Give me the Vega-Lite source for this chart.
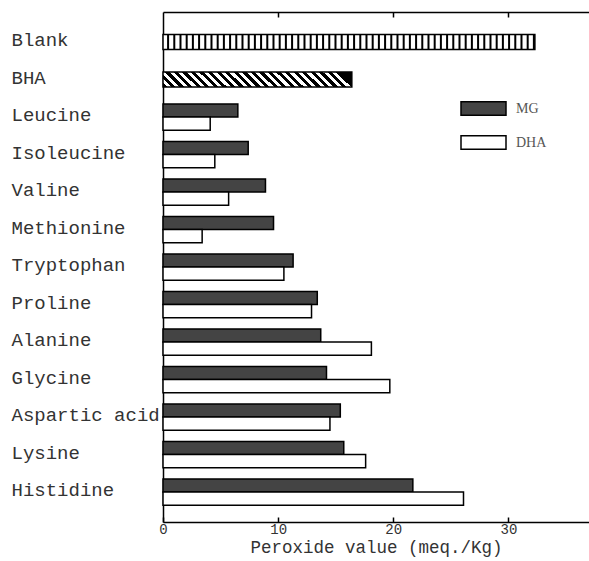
{
  "$schema": "https://vega.github.io/schema/vega-lite/v6.json",
  "width": 426,
  "height": 510,
  "autosize": {"type": "none"},
  "padding": {"left": 163, "top": 12, "right": 0, "bottom": 39},
  "background": "white",
  "config": {"view": {"stroke": null}, "font": "Liberation Mono"},
  "data": {
    "values": [
      {"item": "Blank", "group": "Blank", "value": 32.3},
      {"item": "BHA", "group": "BHA", "value": 16.4},
      {"item": "Leucine", "group": "MG", "value": 6.5},
      {"item": "Leucine", "group": "DHA", "value": 4.1},
      {"item": "Isoleucine", "group": "MG", "value": 7.4},
      {"item": "Isoleucine", "group": "DHA", "value": 4.5},
      {"item": "Valine", "group": "MG", "value": 8.9},
      {"item": "Valine", "group": "DHA", "value": 5.7},
      {"item": "Methionine", "group": "MG", "value": 9.6},
      {"item": "Methionine", "group": "DHA", "value": 3.4},
      {"item": "Tryptophan", "group": "MG", "value": 11.3},
      {"item": "Tryptophan", "group": "DHA", "value": 10.5},
      {"item": "Proline", "group": "MG", "value": 13.4},
      {"item": "Proline", "group": "DHA", "value": 12.9},
      {"item": "Alanine", "group": "MG", "value": 13.7},
      {"item": "Alanine", "group": "DHA", "value": 18.1},
      {"item": "Glycine", "group": "MG", "value": 14.2},
      {"item": "Glycine", "group": "DHA", "value": 19.7},
      {"item": "Aspartic acid", "group": "MG", "value": 15.4},
      {"item": "Aspartic acid", "group": "DHA", "value": 14.5},
      {"item": "Lysine", "group": "MG", "value": 15.7},
      {"item": "Lysine", "group": "DHA", "value": 17.6},
      {"item": "Histidine", "group": "MG", "value": 21.7},
      {"item": "Histidine", "group": "DHA", "value": 26.1}
    ]
  },
  "encoding": {
    "y": {
      "field": "item",
      "type": "nominal",
      "sort": ["Blank", "BHA", "Leucine", "Isoleucine", "Valine", "Methionine", "Tryptophan", "Proline", "Alanine", "Glycine", "Aspartic acid", "Lysine", "Histidine"],
      "scale": {"paddingInner": 0.3, "paddingOuter": 0.45},
      "axis": {
        "title": null,
        "domain": true,
        "domainColor": "black",
        "domainWidth": 1.5,
        "ticks": false,
        "labelAlign": "left",
        "labelBaseline": "middle",
        "labelPadding": 152,
        "labelOffset": -2,
        "labelFont": "Liberation Mono",
        "labelFontSize": 19,
        "labelColor": "#333",
        "labelLimit": 200
      }
    }
  },
  "layer": [
    {
      "transform": [{"filter": "datum.group === 'Blank'"}],
      "mark": {"type": "bar", "height": {"band": 0.58}, "stroke": "black", "strokeWidth": 1.5, "fill": "white"},
      "encoding": {
        "x": {
          "field": "value",
          "type": "quantitative",
          "scale": {"domain": [0, 37], "nice": false},
          "axis": {
            "orient": "bottom",
            "values": [0, 10, 20, 30],
            "grid": false,
            "domain": true,
            "domainColor": "black",
            "domainWidth": 1.5,
            "ticks": true,
            "tickColor": "black",
            "tickWidth": 1.5,
            "tickSize": -5,
            "labelFlush": false,
            "labelPadding": 5,
            "labelFont": "Liberation Mono",
            "labelFontSize": 14,
            "labelColor": "#333",
            "title": "Peroxide value (meq./Kg)",
            "titleFont": "Liberation Mono",
            "titleFontSize": 17.5,
            "titleFontWeight": "normal",
            "titleColor": "#333",
            "titlePadding": 2
          }
        }
      }
    },
    {
      "transform": [{"filter": "datum.group === 'Blank'"}],
      "mark": {"type": "rule", "stroke": "black", "strokeWidth": 14, "strokeDash": [2, 4.2], "strokeCap": "butt"},
      "encoding": {
        "x": {"field": "value", "type": "quantitative", "axis": null},
        "x2": {"datum": 0}
      }
    },
    {
      "transform": [{"filter": "datum.group === 'BHA'"}],
      "mark": {
        "type": "bar",
        "height": {"band": 0.58},
        "stroke": "black",
        "strokeWidth": 1.5,
        "fill": {
          "gradient": "linear",
          "x1": 0, "y1": 1, "x2": 1, "y2": 0.918,
          "stops": [
            {"offset": 0, "color": "black"}, {"offset": 0.0225, "color": "black"}, {"offset": 0.0225, "color": "white"}, {"offset": 0.045, "color": "white"},
            {"offset": 0.045, "color": "black"}, {"offset": 0.0675, "color": "black"}, {"offset": 0.0675, "color": "white"}, {"offset": 0.09, "color": "white"},
            {"offset": 0.09, "color": "black"}, {"offset": 0.1125, "color": "black"}, {"offset": 0.1125, "color": "white"}, {"offset": 0.135, "color": "white"},
            {"offset": 0.135, "color": "black"}, {"offset": 0.1575, "color": "black"}, {"offset": 0.1575, "color": "white"}, {"offset": 0.18, "color": "white"},
            {"offset": 0.18, "color": "black"}, {"offset": 0.2025, "color": "black"}, {"offset": 0.2025, "color": "white"}, {"offset": 0.225, "color": "white"},
            {"offset": 0.225, "color": "black"}, {"offset": 0.2475, "color": "black"}, {"offset": 0.2475, "color": "white"}, {"offset": 0.27, "color": "white"},
            {"offset": 0.27, "color": "black"}, {"offset": 0.2925, "color": "black"}, {"offset": 0.2925, "color": "white"}, {"offset": 0.315, "color": "white"},
            {"offset": 0.315, "color": "black"}, {"offset": 0.3375, "color": "black"}, {"offset": 0.3375, "color": "white"}, {"offset": 0.36, "color": "white"},
            {"offset": 0.36, "color": "black"}, {"offset": 0.3825, "color": "black"}, {"offset": 0.3825, "color": "white"}, {"offset": 0.405, "color": "white"},
            {"offset": 0.405, "color": "black"}, {"offset": 0.4275, "color": "black"}, {"offset": 0.4275, "color": "white"}, {"offset": 0.45, "color": "white"},
            {"offset": 0.45, "color": "black"}, {"offset": 0.4725, "color": "black"}, {"offset": 0.4725, "color": "white"}, {"offset": 0.495, "color": "white"},
            {"offset": 0.495, "color": "black"}, {"offset": 0.5175, "color": "black"}, {"offset": 0.5175, "color": "white"}, {"offset": 0.54, "color": "white"},
            {"offset": 0.54, "color": "black"}, {"offset": 0.5625, "color": "black"}, {"offset": 0.5625, "color": "white"}, {"offset": 0.585, "color": "white"},
            {"offset": 0.585, "color": "black"}, {"offset": 0.6075, "color": "black"}, {"offset": 0.6075, "color": "white"}, {"offset": 0.63, "color": "white"},
            {"offset": 0.63, "color": "black"}, {"offset": 0.6525, "color": "black"}, {"offset": 0.6525, "color": "white"}, {"offset": 0.675, "color": "white"},
            {"offset": 0.675, "color": "black"}, {"offset": 0.6975, "color": "black"}, {"offset": 0.6975, "color": "white"}, {"offset": 0.72, "color": "white"},
            {"offset": 0.72, "color": "black"}, {"offset": 0.7425, "color": "black"}, {"offset": 0.7425, "color": "white"}, {"offset": 0.765, "color": "white"},
            {"offset": 0.765, "color": "black"}, {"offset": 0.7875, "color": "black"}, {"offset": 0.7875, "color": "white"}, {"offset": 0.81, "color": "white"},
            {"offset": 0.81, "color": "black"}, {"offset": 0.8325, "color": "black"}, {"offset": 0.8325, "color": "white"}, {"offset": 0.855, "color": "white"},
            {"offset": 0.855, "color": "black"}, {"offset": 0.8775, "color": "black"}, {"offset": 0.8775, "color": "white"}, {"offset": 0.9, "color": "white"},
            {"offset": 0.9, "color": "black"}, {"offset": 0.9225, "color": "black"}, {"offset": 0.9225, "color": "white"}, {"offset": 0.945, "color": "white"},
            {"offset": 0.945, "color": "black"}, {"offset": 0.9675, "color": "black"}, {"offset": 0.9675, "color": "white"}, {"offset": 0.99, "color": "white"},
            {"offset": 0.99, "color": "black"}, {"offset": 1, "color": "black"}
          ]
        }
      },
      "encoding": {
        "x": {"field": "value", "type": "quantitative", "axis": null}
      }
    },
    {
      "transform": [{"filter": "datum.group === 'MG' || datum.group === 'DHA'"}],
      "mark": {"type": "bar", "stroke": "black", "strokeWidth": 1.5},
      "encoding": {
        "x": {
          "field": "value",
          "type": "quantitative",
          "axis": {
            "orient": "top",
            "values": [10, 20, 30],
            "grid": false,
            "labels": false,
            "title": null,
            "domain": true,
            "domainColor": "black",
            "domainWidth": 1.5,
            "ticks": true,
            "tickColor": "black",
            "tickWidth": 1.5,
            "tickSize": -5
          }
        },
        "yOffset": {"field": "group", "type": "nominal", "scale": {"domain": ["MG", "DHA"], "paddingInner": 0, "paddingOuter": 0}},
        "fill": {
          "field": "group",
          "type": "nominal",
          "scale": {"domain": ["MG", "DHA"], "range": ["#444444", "#ffffff"]},
          "legend": {
            "orient": "none",
            "legendX": 297,
            "legendY": 73,
            "title": null,
            "symbolType": "M-1,-0.3H1V0.3H-1Z",
            "symbolSize": 2025,
            "symbolStrokeColor": "black",
            "symbolStrokeWidth": 1.5,
            "symbolOpacity": 1,
            "rowPadding": -6,
            "labelFont": "Liberation Serif",
            "labelFontSize": 14,
            "labelColor": "#555",
            "labelOffset": 9
          }
        }
      }
    }
  ]
}
